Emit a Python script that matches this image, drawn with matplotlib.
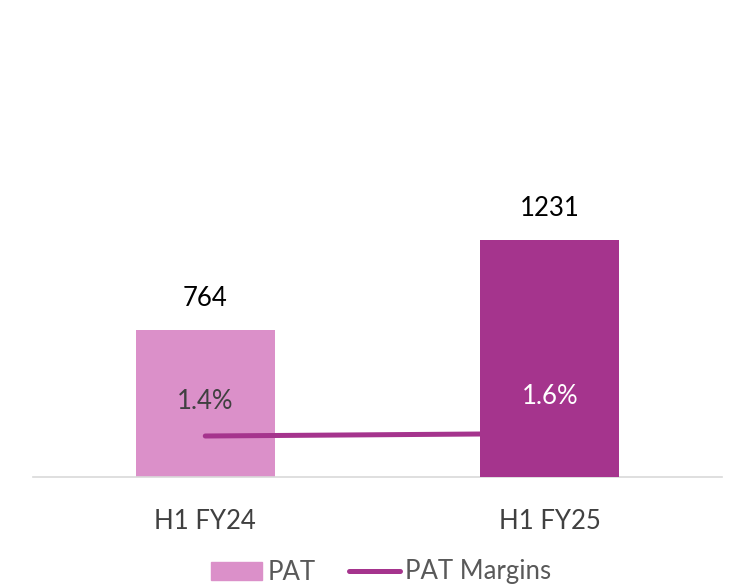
import matplotlib.pyplot as plt

# chart values
categories = ["H1 FY24", "H1 FY25"]
pat = [764, 1231]
margins = [1.4, 1.6]
bar_colors = ["#DB90C9", "#A5348D"]
pct_colors = ["#404040", "#FFFFFF"]
line_color = "#A5348D"

plt.rcParams['font.family'] = ['Lato', 'DejaVu Sans']
fs = 18.5

fig = plt.figure(figsize=(7.3, 5.88), dpi=100)
ax = fig.add_axes([33 / 730, 111 / 588, 689 / 730, 457 / 588])
ax2 = ax.twinx()

x = list(range(len(categories)))
ax.set_xlim(-0.5, 1.5)
ax.set_ylim(0, 2375)
ax2.set_ylim(-1.88, 34.68)
ax2.axis('off')

# bars, with the margin line sitting between the first and second bar
ax.bar(x[0], pat[0], width=0.403, color=bar_colors[0], zorder=1)
ax.plot(x, margins, color=line_color, lw=3.6, solid_capstyle='round',
        transform=ax2.transData, zorder=2)
ax.bar(x[1], pat[1], width=0.403, color=bar_colors[1], zorder=3)

for i in x:
    ax.annotate(str(pat[i]), (i, pat[i]), xytext=(0, 14), textcoords='offset points',
                ha='center', va='bottom', fontsize=fs, color='black')
    ax.annotate("{:.1f}%".format(margins[i]), (i, margins[i]), xycoords=ax2.transData,
                xytext=(0, 25 + 2 * i), textcoords='offset points',
                ha='center', va='center', fontsize=fs, color=pct_colors[i], zorder=5)

ax.set_xticks(x)
ax.set_xticklabels(categories, fontsize=fs, color='#404040')
ax.tick_params(axis='x', length=0, pad=23)
ax.set_yticks([])
for side in ['top', 'right', 'left']:
    ax.spines[side].set_visible(False)
ax.spines['bottom'].set_color('#D9D9D9')
ax.spines['bottom'].set_linewidth(1.2)

h1 = plt.Rectangle((0, 0), 1, 1, color=bar_colors[0])
h2 = plt.Line2D([0], [0], color=line_color, lw=3.6, solid_capstyle='round')
leg = fig.legend([h1, h2], ["PAT", "PAT Margins"], loc='center',
                 bbox_to_anchor=(0.522, 1 - 572 / 588), ncol=2, frameon=False,
                 fontsize=fs, handlelength=2.0, handletextpad=0.2, columnspacing=1.3)
for t in leg.get_texts():
    t.set_color('#595959')

fig.savefig("out.png", dpi=100)
